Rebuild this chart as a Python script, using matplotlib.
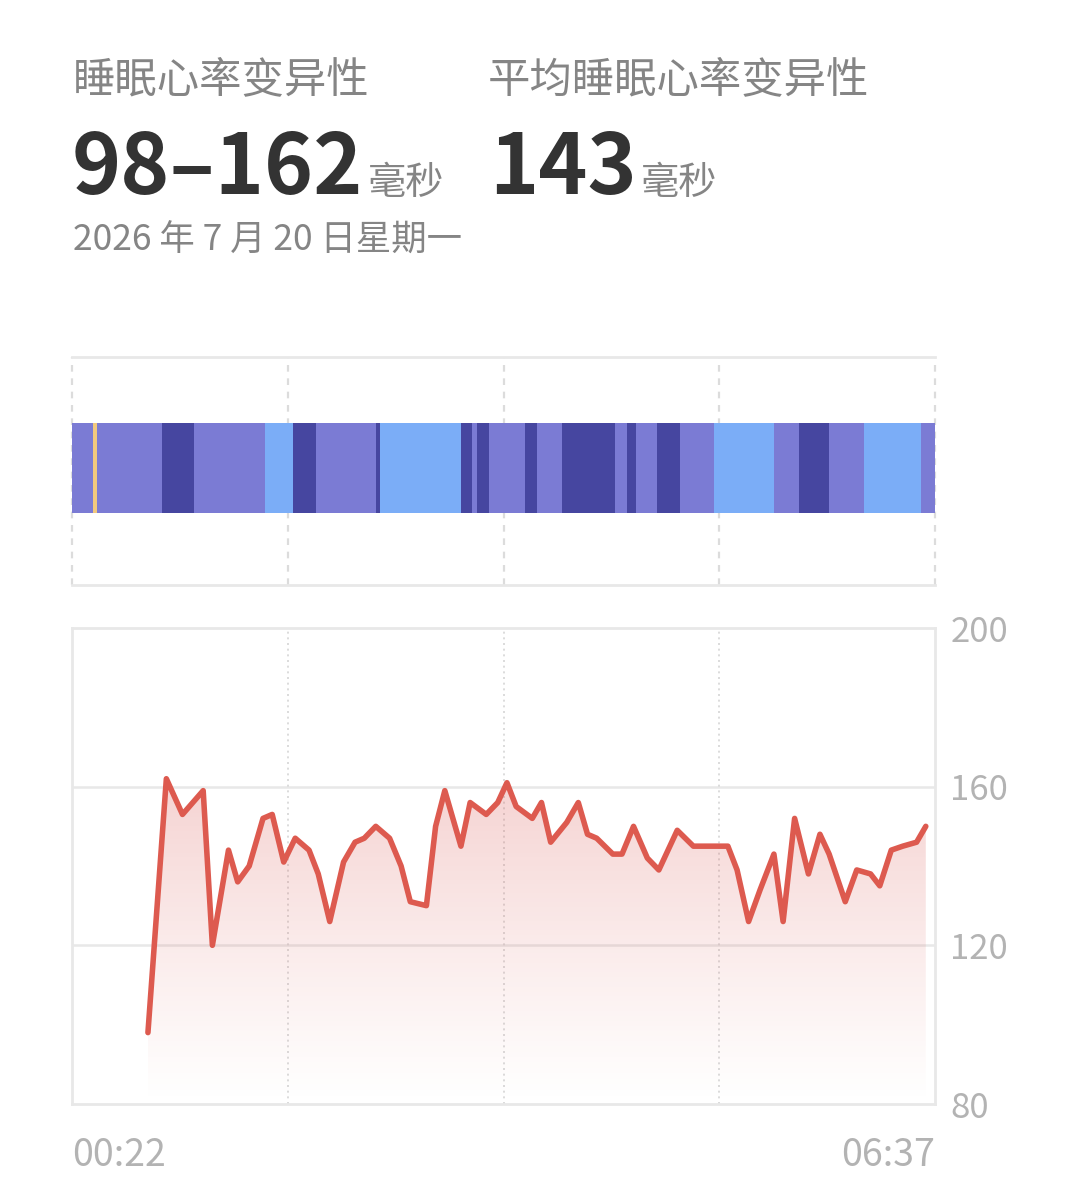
import numpy as np
import matplotlib
matplotlib.use("Agg")
import matplotlib.pyplot as plt
from matplotlib.patches import Polygon

plt.rcParams['font.family'] = ['Noto Sans CJK SC', 'DejaVu Sans']

# Sleep stages (start/end clock times) and HRV readings
stage_edges = ["00:22", "00:31", "00:33", "01:01", "01:15", "01:46", "01:58", "02:08",
               "02:34", "02:36", "03:11", "03:16", "03:18", "03:23", "03:39", "03:44",
               "03:55", "04:18", "04:23", "04:27", "04:36", "04:46", "05:01", "05:27",
               "05:38", "05:51", "06:06", "06:31", "06:37"]
stages = ["浅睡", "清醒", "浅睡", "深睡", "浅睡", "快速眼动", "深睡", "浅睡", "深睡",
          "快速眼动", "深睡", "浅睡", "深睡", "浅睡", "深睡", "浅睡", "深睡", "浅睡",
          "深睡", "浅睡", "深睡", "浅睡", "快速眼动", "浅睡", "深睡", "浅睡", "快速眼动", "浅睡"]

hrv_times = ["00:55", "01:03", "01:10", "01:19", "01:23", "01:30", "01:34", "01:39", "01:45",
             "01:49", "01:54", "01:59", "02:05", "02:09", "02:14", "02:20", "02:25", "02:29",
             "02:34", "02:40", "02:45", "02:49", "02:56", "03:00", "03:04", "03:11", "03:15",
             "03:22", "03:27", "03:31", "03:35", "03:42", "03:46", "03:50", "03:57", "04:02",
             "04:06", "04:10", "04:17", "04:21", "04:26", "04:32", "04:37", "04:45", "04:52",
             "05:07", "05:11", "05:16", "05:21", "05:27", "05:31", "05:36", "05:42", "05:47",
             "05:51", "05:58", "06:03", "06:09", "06:13", "06:18", "06:23", "06:29", "06:33"]
hrv_values = [98, 162, 153, 159, 120, 144, 136, 140, 152, 153, 141, 147, 144, 138, 126, 141,
              146, 147, 150, 147, 140, 131, 130, 150, 159, 145, 156, 153, 156, 161, 155, 152,
              156, 146, 151, 156, 148, 147, 143, 143, 150, 142, 139, 149, 145, 145, 139, 126,
              134, 143, 126, 152, 138, 148, 143, 131, 139, 138, 135, 144, 145, 146, 150]

y_ticks = [80, 120, 160, 200]
start_label, end_label = "00:22", "06:37"
title_left, title_right = "睡眠心率变异性", "平均睡眠心率变异性"
range_text, avg_text, unit = "98–162", "143", "毫秒"
date_text = "2026 年 7 月 20 日星期一"

stage_colors = {"浅睡": "#7b7bd4", "深睡": "#4646a0", "快速眼动": "#7badf7", "清醒": "#f2c97d"}


def to_abs(t):
    h, m = map(int, t.split(":"))
    return h * 60 + m


def to_min(t):
    return to_abs(t) - to_abs(start_label)


W, H = 1080, 1195
fig = plt.figure(figsize=(W / 100, H / 100), dpi=100)
fig.patch.set_facecolor("white")


def fx(x):
    return x / W


def fy(y):
    return 1 - y / H


span = to_min(end_label)
quarters = np.linspace(0, span, 5)
grid_c = "#e8e8e8"

# ---- header texts
gray = "#858585"
fig.text(fx(73), fy(80), title_left, fontsize=30.5, color=gray, weight="medium",
         va="center", ha="left")
fig.text(fx(488), fy(80), title_right, fontsize=30.5, color=gray, weight="medium",
         va="center", ha="left")
t1 = fig.text(fx(72), fy(194), range_text, fontsize=60, weight="bold", color="#333333",
              va="baseline", ha="left")
t2 = fig.text(fx(489), fy(194), avg_text, fontsize=60, weight="bold", color="#333333",
              va="baseline", ha="left")
fig.text(fx(73), fy(241), date_text, fontsize=25.5, color=gray, weight="medium",
         va="center", ha="left")

renderer = fig.canvas.get_renderer()
for t in (t1, t2):
    bb = t.get_window_extent(renderer)
    fig.text(bb.x1 / W + fx(4), fy(194), unit, fontsize=27.5, color=gray, weight="medium",
             va="baseline", ha="left")

# ---- sleep stage band
axb = fig.add_axes([fx(72), fy(585), fx(935) - fx(72), (585 - 357) / H])
starts = [to_min(t) for t in stage_edges[:-1]]
ends = [to_min(t) for t in stage_edges[1:]]
widths = [e - s for s, e in zip(starts, ends)]
band_lo, band_hi = (585 - 513) / 228, (585 - 423) / 228
axb.barh((band_lo + band_hi) / 2, widths, left=starts, height=band_hi - band_lo,
         color=[stage_colors[s] for s in stages], linewidth=0, zorder=3)
for q in quarters:
    axb.axvline(q, color="#dcdcdc", lw=1.6, ls=(0, (3, 3)), zorder=1, clip_on=False)
axb.set_xlim(0, span)
axb.set_ylim(0, 1)
for side in ("left", "right"):
    axb.spines[side].set_visible(False)
for side in ("top", "bottom"):
    axb.spines[side].set_color(grid_c)
    axb.spines[side].set_linewidth(2)
axb.set_xticks([])
axb.set_yticks([])

# ---- HRV line chart
ax = fig.add_axes([fx(72), fy(1104), fx(935) - fx(72), (1104 - 628) / H])
xs = np.array([to_min(t) for t in hrv_times], dtype=float)
ys = np.array(hrv_values, dtype=float)

for v in y_ticks[1:-1]:
    ax.axhline(v, color=grid_c, lw=1.8, zorder=1)
for q in quarters[1:-1]:
    ax.axvline(q, color="#d6d6d6", lw=1.2, ls=(0, (1.2, 2.2)), zorder=1)

# gradient fill under the line
poly_pts = np.vstack([np.column_stack([xs, ys]), [[xs[-1], y_ticks[0]], [xs[0], y_ticks[0]]]])
clip = Polygon(poly_pts, closed=True, facecolor="none", edgecolor="none")
ax.add_patch(clip)
grad = np.zeros((256, 1, 4))
grad[..., 0], grad[..., 1], grad[..., 2] = 0.86, 0.35, 0.33
grad[:, 0, 3] = np.linspace(0.0, 0.30, 256) ** 1.1
img = ax.imshow(grad, extent=[xs[0], xs[-1], y_ticks[0], ys.max()], origin="lower",
                aspect="auto", zorder=2, interpolation="bilinear")
img.set_clip_path(clip)
ax.set_xlim(0, span)
ax.set_ylim(y_ticks[0], y_ticks[-1])

ax.plot(xs, ys, color="#dd5a4f", lw=4.0, solid_joinstyle="round", solid_capstyle="round",
        zorder=4)

for side in ax.spines.values():
    side.set_color(grid_c)
    side.set_linewidth(2)

ax.yaxis.tick_right()
ax.set_yticks(y_ticks)
ax.set_yticklabels([str(v) for v in y_ticks])
ax.tick_params(axis="y", length=0, pad=11, labelsize=25, labelcolor="#b3b3b3")
ax.set_xticks([])
ax.text(0, -0.108, start_label, transform=ax.transAxes, fontsize=27, color="#b3b3b3",
        ha="left", va="center")
ax.text(1, -0.108, end_label, transform=ax.transAxes, fontsize=27, color="#b3b3b3",
        ha="right", va="center")

fig.savefig("out.png", dpi=100, facecolor="white")
